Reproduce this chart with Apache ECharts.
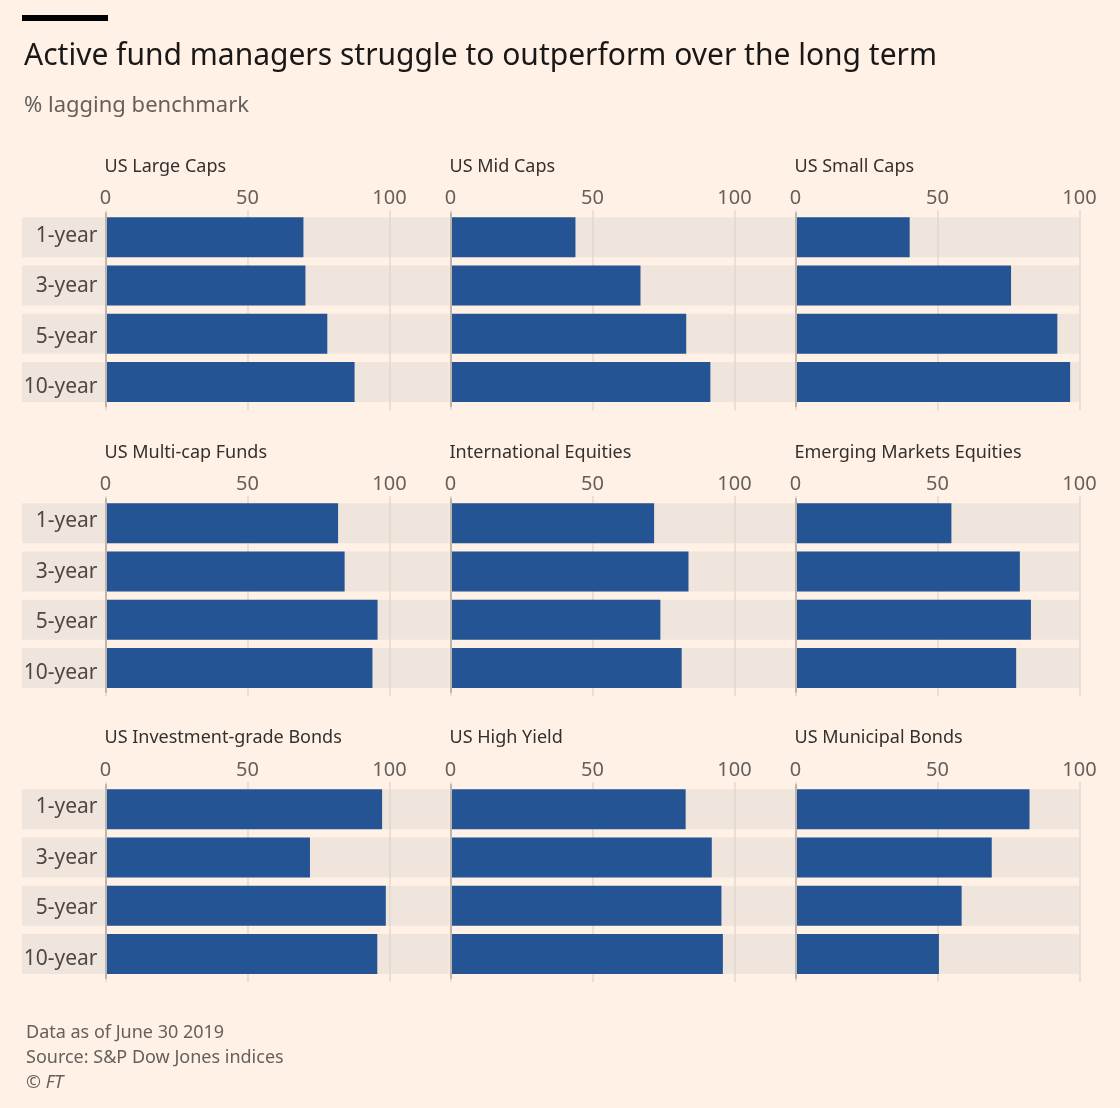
<!DOCTYPE html>
<html>
<head>
<meta charset="utf-8">
<script src="https://cdn.jsdelivr.net/npm/echarts@6.0.0/dist/echarts.min.js"></script>
<style>
html, body { margin: 0; padding: 0; background: #fff1e5; }
#chart { width: 1120px; height: 1108px; }
</style>
</head>
<body>
<div id="chart"></div>
<script>
// data (% of funds lagging their benchmark)
const periods = ['1-year', '3-year', '5-year', '10-year'];
const tickValues = [0, 50, 100];

const panelTitles = [
    'US Large Caps', 'US Mid Caps', 'US Small Caps',
    'US Multi-cap Funds', 'International Equities', 'Emerging Markets Equities',
    'US Investment-grade Bonds', 'US High Yield', 'US Municipal Bonds'
];

const largeCaps     = [69.7, 70.4, 78.1, 87.7];
const midCaps       = [44.0, 66.9, 83.0, 91.5];
const smallCaps     = [40.2, 75.9, 92.2, 96.7];
const multiCap      = [81.9, 84.2, 95.8, 94.0];
const intlEquities  = [71.7, 83.8, 73.9, 81.4];
const emEquities    = [54.9, 79.0, 82.9, 77.7];
const invGradeBonds = [97.4, 72.0, 98.7, 95.7];
const highYield     = [82.8, 92.0, 95.4, 95.9];
const muniBonds     = [82.4, 69.1, 58.5, 50.5];

const panelValues = [
    largeCaps, midCaps, smallCaps,
    multiCap, intlEquities, emEquities,
    invGradeBonds, highYield, muniBonds
];

const FONT = 'Noto Sans';
const BAR = '#245493';
const BAND = '#efe5dc';
const GRID_LINE = '#e2d8ce';
const ZERO_LINE = '#bdb4ab';
const TICK_TEXT = '#66605c';

// layout of the 3x3 small multiples
const colLeft = [105.5, 450.5, 795.5];
const bandLeft = [22, 450.5, 795.5];
const bandRight = [449.5, 795.5, 1079.5];
const plotWidth = 284;
const rowStep = 285.9;
const rowTop = [213.2, 499.1, 785];
const plotHeight = 193;

var chartDom = document.getElementById('chart');
var myChart = echarts.init(chartDom);

var grids = [], xAxes = [], yAxes = [], series = [];
var titles = [
    {
        text: 'Active fund managers struggle to outperform over the long term',
        left: 24, top: 41, padding: 0,
        textStyle: { fontFamily: FONT, fontSize: 30, fontWeight: 'normal', color: '#1a1817' }
    },
    {
        text: '% lagging benchmark',
        left: 24, top: 95, padding: 0,
        textStyle: { fontFamily: FONT, fontSize: 22, fontWeight: 'normal', color: TICK_TEXT }
    }
];

panelTitles.forEach((name, i) => {
    var r = Math.floor(i / 3), c = i % 3;

    // background bands
    var bgGrid = grids.length;
    grids.push({
        left: bandLeft[c], top: rowTop[r],
        width: bandRight[c] - bandLeft[c], height: plotHeight
    });
    var bgX = xAxes.length, bgY = yAxes.length;
    xAxes.push({ gridIndex: bgGrid, type: 'value', min: 0, max: 1, show: false });
    yAxes.push({ gridIndex: bgGrid, type: 'category', data: periods, inverse: true, show: false });
    series.push({
        type: 'bar', name: name + ' band',
        xAxisIndex: bgX, yAxisIndex: bgY,
        data: periods.map(() => 1),
        barWidth: 40, silent: true, z: 1,
        itemStyle: { color: BAND }
    });

    // plot area
    var plotGrid = grids.length;
    grids.push({
        left: colLeft[c], top: rowTop[r],
        width: plotWidth, height: plotHeight
    });
    var px = xAxes.length, py = yAxes.length;
    xAxes.push({
        gridIndex: plotGrid, type: 'value', position: 'top',
        min: 0, max: 100, interval: 50, z: 2,
        axisLine: { show: false },
        axisTick: { show: true, length: 3, lineStyle: { color: GRID_LINE, width: 1.5 } },
        axisLabel: {
            margin: 5, fontFamily: FONT, fontSize: 20, color: TICK_TEXT,
            formatter: v => tickValues.indexOf(v) >= 0 ? String(v) : ''
        },
        splitLine: { show: true, lineStyle: { color: GRID_LINE, width: 1.5 } }
    });
    xAxes.push({
        gridIndex: plotGrid, type: 'value', position: 'bottom',
        min: 0, max: 100, interval: 50, z: 2,
        axisLine: { show: false },
        axisTick: { show: true, length: 4, lineStyle: { color: GRID_LINE, width: 1.5 } },
        axisLabel: { show: false },
        splitLine: { show: false }
    });
    yAxes.push({
        gridIndex: plotGrid, type: 'category', data: periods, inverse: true, z: 4,
        axisLine: { show: true, lineStyle: { color: ZERO_LINE, width: 2 } },
        axisTick: { show: false },
        axisLabel: { show: false }
    });
    series.push({
        type: 'bar', name: name,
        xAxisIndex: px, yAxisIndex: py,
        data: panelValues[i],
        barWidth: 40, z: 3,
        itemStyle: { color: BAR }
    });

    // row labels, left column only (spaced a little wider than the bars, as in the original)
    if (c === 0) {
        var labelGrid = grids.length;
        grids.push({ left: colLeft[c], top: 210.3 + r * rowStep, width: 1, height: 202 });
        xAxes.push({ gridIndex: labelGrid, type: 'value', show: false });
        yAxes.push({
            gridIndex: labelGrid, type: 'category', data: periods, inverse: true, z: 6,
            axisLine: { show: false }, axisTick: { show: false },
            axisLabel: { margin: 8, fontFamily: FONT, fontSize: 21, color: '#4d4845' }
        });
    }

    titles.push({
        text: name,
        left: colLeft[c] - 1, top: 157.5 + r * rowStep, padding: 0,
        textStyle: { fontFamily: FONT, fontSize: 18, fontWeight: 'normal', color: '#33302e' }
    });
});

var option = {
    backgroundColor: '#fff1e5',
    animation: false,
    title: titles,
    grid: grids,
    xAxis: xAxes,
    yAxis: yAxes,
    series: series,
    graphic: [
        { type: 'rect', left: 22, top: 15, shape: { width: 86, height: 6 }, style: { fill: '#000' } },
        {
            type: 'text', left: 26, top: 1024,
            style: { text: 'Data as of June 30 2019', fontFamily: FONT, fontSize: 18, fill: TICK_TEXT }
        },
        {
            type: 'text', left: 26, top: 1049,
            style: { text: 'Source: S&P Dow Jones indices', fontFamily: FONT, fontSize: 18, fill: TICK_TEXT }
        },
        {
            type: 'text', left: 26, top: 1074,
            style: {
                text: '© {i|FT}', fontFamily: FONT, fontSize: 18, fill: TICK_TEXT,
                rich: { i: { fontFamily: FONT, fontSize: 18, fontStyle: 'italic', color: TICK_TEXT } }
            }
        }
    ]
};

option && myChart.setOption(option);
</script>
</body>
</html>
